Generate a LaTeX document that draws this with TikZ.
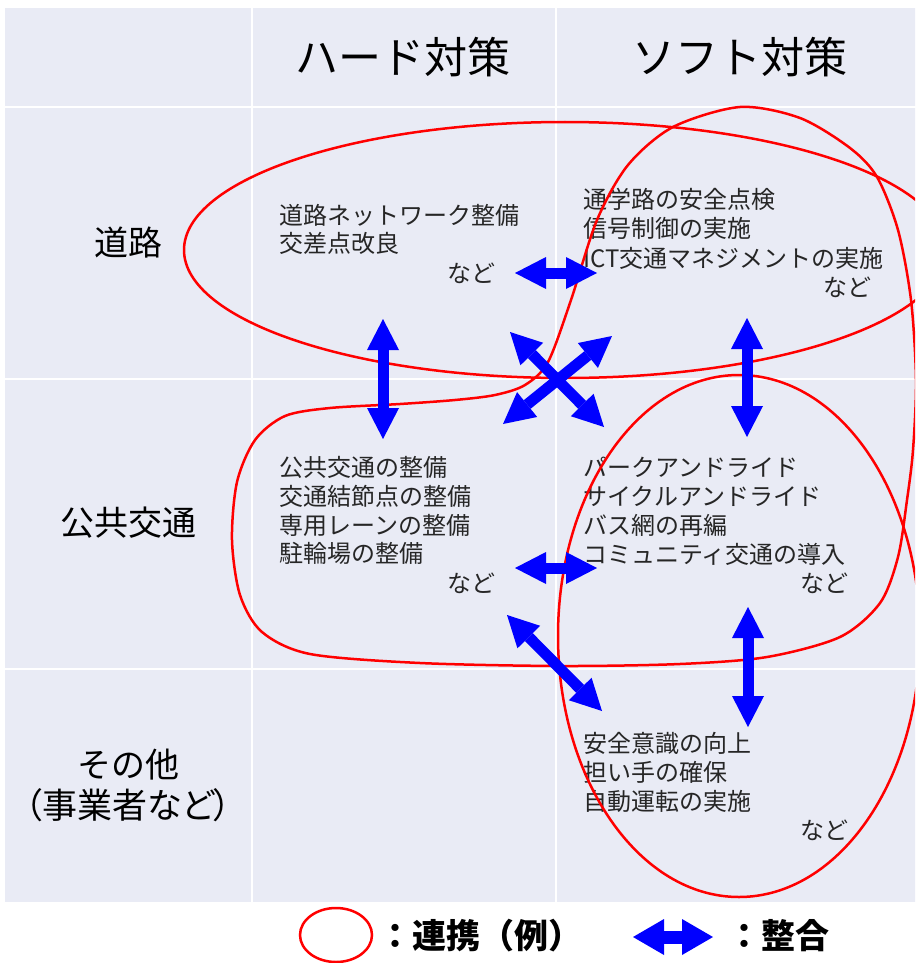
\documentclass[tikz,border=0pt]{standalone}
\usepackage{fontspec}
\setmainfont{Noto Sans CJK JP}
\newfontfamily\jpp[RawFeature=+palt]{Noto Sans CJK JP}
\usetikzlibrary{arrows.meta}
\definecolor{cellbg}{HTML}{E9EBF5}
\definecolor{myred}{HTML}{FF0000}
\definecolor{myblue}{HTML}{0000FF}
\tikzset{
  cell/.style={fill=cellbg, draw=none},
  headtxt/.style={font=\fontsize{43}{47}\selectfont, inner sep=0pt},
  rowlab/.style={font=\fontsize{34}{38}\selectfont, inner sep=0pt},
  ctext/.style={font=\fontsize{24}{29}\selectfont, inner sep=0pt, anchor=west, text=black!85},
  link/.style={draw=myred, line width=2.5pt},
  fat/.style={draw=myblue, line width=11pt,
    {Triangle[width=32pt,length=31pt,line width=0pt]}-{Triangle[width=32pt,length=31pt,line width=0pt]}},
  fatlegend/.style={draw=myblue, line width=13pt,
    {Triangle[width=36pt,length=31pt,line width=0pt]}-{Triangle[width=36pt,length=31pt,line width=0pt]}},
  legtxt/.style={font=\bfseries\fontsize{34}{38}\selectfont, inner sep=0pt, anchor=west},
}
\begin{document}
\begin{tikzpicture}[x=1pt,y=-1pt]
\useasboundingbox (0,0) rectangle (915,963);
\fill[white] (0,0) rectangle (915,963);
\clip (0,0) rectangle (915,963);
% grid cells
\foreach \xa/\xb in {5/251,253/555,557/916}
  \foreach \ya/\yb in {8/106,108/378,380/668,670/902}
    \fill[cell] (\xa,\ya) rectangle (\xb,\yb);
% headers
\node[headtxt] (h1) at (403,57) {ハード対策};
\node[headtxt] (h2) at (740,57) {ソフト対策};
% row labels
\node[rowlab] (r1) at (128,243) {道路};
\node[rowlab] (r2) at (128,523) {公共交通};
\node[rowlab] (r3) at (128,765) {その他};
\node[rowlab, font=\jpp\fontsize{35}{38}\selectfont] (r4) at (128,805) {（事業者など）};
% cell texts: road / hard
\node[ctext] (t11) at (279,215) {道路ネットワーク整備};
\node[ctext] (t12) at (279,243) {交差点改良};
\node[ctext] (t13) at (447,273) {など};
% road / soft
\node[ctext] (t21) at (583,199) {通学路の安全点検};
\node[ctext] (t22) at (583,228) {信号制御の実施};
\node[ctext] (t23) at (583,258) {ICT交通マネジメントの実施};
\node[ctext] (t24) at (823,287) {など};
% public transport / hard
\node[ctext] (t31) at (279,467) {公共交通の整備};
\node[ctext] (t32) at (279,496) {交通結節点の整備};
\node[ctext] (t33) at (279,525) {専用レーンの整備};
\node[ctext] (t34) at (279,553) {駐輪場の整備};
\node[ctext] (t35) at (447,583) {など};
% public transport / soft
\node[ctext] (t41) at (583,467) {パークアンドライド};
\node[ctext] (t42) at (583,496) {サイクルアンドライド};
\node[ctext] (t43) at (583,525) {バス網の再編};
\node[ctext] (t44) at (583,554) {コミュニティ交通の導入};
\node[ctext] (t45) at (800,583) {など};
% other / soft
\node[ctext] (t51) at (583,743) {安全意識の向上};
\node[ctext] (t52) at (583,772) {担い手の確保};
\node[ctext] (t53) at (583,801) {自動運転の実施};
\node[ctext] (t54) at (800,830) {など};
% red link shapes
\draw[link] (565,250) ellipse [x radius=381pt, y radius=128pt];
\draw[link] (739,636) ellipse [x radius=181pt, y radius=261pt];
\draw[link] plot[smooth cycle] coordinates {
  (740,107) (800,118) (850,148) (877,177) (898,230) (911,300) (916,380)
  (913,450) (907,500) (898,557) (880,603) (840,637) (767,657) (680,664)
  (560,666) (420,663) (310,654) (262,632) (240,595) (232,540) (237,482)
  (255,440) (285,416) (330,408) (400,404) (455,400) (495,395) (525,385)
  (548,362) (571,300) (597,220) (628,165) (673,127)};
% blue arrow end points
\coordinate (a1s) at (515,273); \coordinate (a1e) at (597,273);
\coordinate (a2s) at (383,319); \coordinate (a2e) at (383,439);
\coordinate (a3s) at (747,318); \coordinate (a3e) at (747,437);
\coordinate (a4s) at (510,332); \coordinate (a4e) at (604,427);
\coordinate (a5s) at (612,336); \coordinate (a5e) at (503,424);
\coordinate (a6s) at (515,568); \coordinate (a6e) at (597,568);
\coordinate (a7s) at (748,607); \coordinate (a7e) at (748,727);
\coordinate (a8s) at (507,615); \coordinate (a8e) at (602,711);
\draw[fat] (a1s) -- (a1e);
\draw[fat] (a2s) -- (a2e);
\draw[fat] (a3s) -- (a3e);
\draw[fat] (a4s) -- (a4e);
\draw[fat] (a5s) -- (a5e);
\draw[fat] (a6s) -- (a6e);
\draw[fat] (a7s) -- (a7e);
\draw[fat] (a8s) -- (a8e);
% legend
\draw[link] (336,935) ellipse [x radius=36pt, y radius=27pt];
\node[legtxt] (l1) at (378,936) {：連携（例）};
\coordinate (lgs) at (633,937); \coordinate (lge) at (713,937);
\draw[fatlegend] (lgs) -- (lge);
\node[legtxt] (l2) at (727,936) {：整合};
\end{tikzpicture}
\end{document}
